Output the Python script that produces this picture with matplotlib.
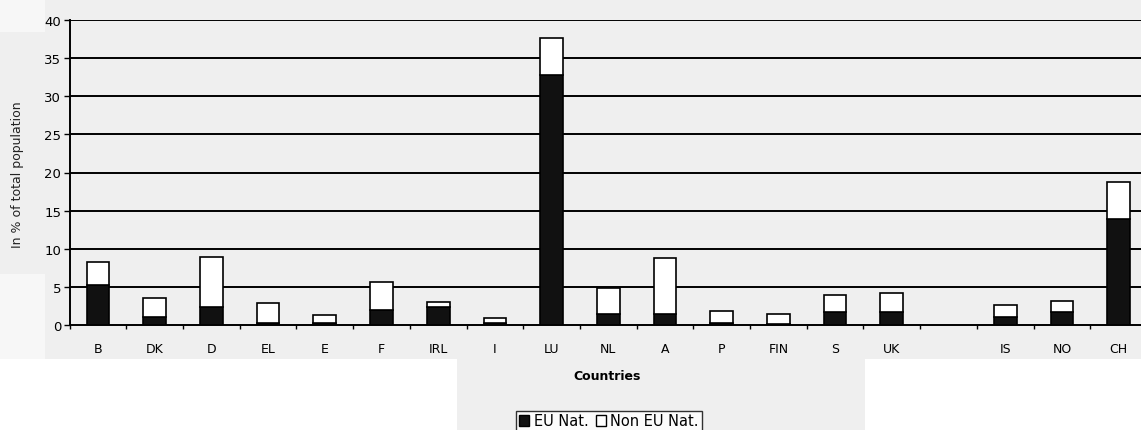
import matplotlib
matplotlib.use("Agg")
import matplotlib.pyplot as plt
from matplotlib.patches import Rectangle, Patch
import numpy as np

countries = ["B", "DK", "D", "EL", "E", "F", "IRL", "I", "LU", "NL", "A", "P", "FIN", "S", "UK", "IS", "NO", "CH"]
slots = [0, 1, 2, 3, 4, 5, 6, 7, 8, 9, 10, 11, 12, 13, 14, 16, 17, 18]
total = [8.3, 3.5, 8.9, 2.9, 1.3, 5.6, 3.0, 0.9, 37.6, 4.9, 8.8, 1.8, 1.4, 4.0, 4.2, 2.6, 3.2, 18.8]
eu_nat = [5.2, 1.0, 2.4, 0.2, 0.3, 2.0, 2.4, 0.2, 32.8, 1.4, 1.4, 0.3, 0.1, 1.7, 1.7, 1.0, 1.7, 13.9]
non_eu_nat = [t - e for t, e in zip(total, eu_nat)]
yticks = [0, 5, 10, 15, 20, 25, 30, 35, 40]

W, H = 1141, 431
fig = plt.figure(figsize=(W / 100, H / 100), dpi=100, facecolor="white")
gray = "#efefef"

def bg(x0, y0, x1, y1, c=gray):
    fig.patches.append(Rectangle((x0 / W, 1 - y1 / H), (x1 - x0) / W, (y1 - y0) / H,
                                 transform=fig.transFigure, facecolor=c, edgecolor="none", zorder=-10))

bg(0, 0, W, 360)
bg(0, 0, 45, 33, "#f7f7f7")
bg(0, 275, 45, 360, "#f7f7f7")
bg(457, 360, 865, 431)

left_px, right_px = 69.6, 1147.0
top_px, bot_px = 21.0, 326.0
ax = fig.add_axes([left_px / W, 1 - bot_px / H, (right_px - left_px) / W, (bot_px - top_px) / H])
ax.set_facecolor(gray)
ax.patch.set_alpha(0)

ax.bar(slots, eu_nat, width=0.4, color="#111111", edgecolor="black", linewidth=1.2, zorder=3)
ax.bar(slots, non_eu_nat, bottom=eu_nat, width=0.4, color="white", edgecolor="black", linewidth=1.2, zorder=3)

ax.set_xlim(-0.5, 18.5)
ax.set_ylim(0, 40)
ax.set_yticks(yticks)
ax.set_yticklabels([str(v) for v in yticks], fontsize=9.5)
for v in yticks[1:]:
    ax.axhline(v, color="black", linewidth=1.4, zorder=1)

ax.set_xticks(slots)
ax.set_xticklabels(countries, fontsize=9)
ax.tick_params(axis="x", length=0, pad=12)
ax.set_xticks(np.arange(-0.5, 19.0, 1.0), minor=True)
ax.tick_params(axis="x", which="minor", length=3, direction="out", width=1)
ax.tick_params(axis="y", length=4, direction="out", width=1, pad=2)

for s in ["top", "right"]:
    ax.spines[s].set_visible(False)
for s in ["left", "bottom"]:
    ax.spines[s].set_linewidth(1.4)

fig.text(18 / W, 1 - 175 / H, "In % of total population", rotation=90, fontsize=9,
         ha="center", va="center", color="#222222")
fig.text(607 / W, 1 - 377 / H, "Countries", fontsize=9, fontweight="bold", ha="center", va="center")

handles = [Patch(facecolor="#111111", edgecolor="black", label="EU Nat."),
           Patch(facecolor="white", edgecolor="black", label="Non EU Nat.")]
leg = fig.legend(handles=handles, loc="center", bbox_to_anchor=(609 / W, 1 - 422 / H), ncol=2,
                 fontsize=10.5, frameon=True, fancybox=False, edgecolor="black",
                 handlelength=0.7, handleheight=0.7, handletextpad=0.3, columnspacing=0.5,
                 borderpad=0.2, borderaxespad=0)
leg.get_frame().set_linewidth(1.0)
leg.get_frame().set_facecolor("white")

fig.savefig("out.png", dpi=100, facecolor=fig.get_facecolor())
